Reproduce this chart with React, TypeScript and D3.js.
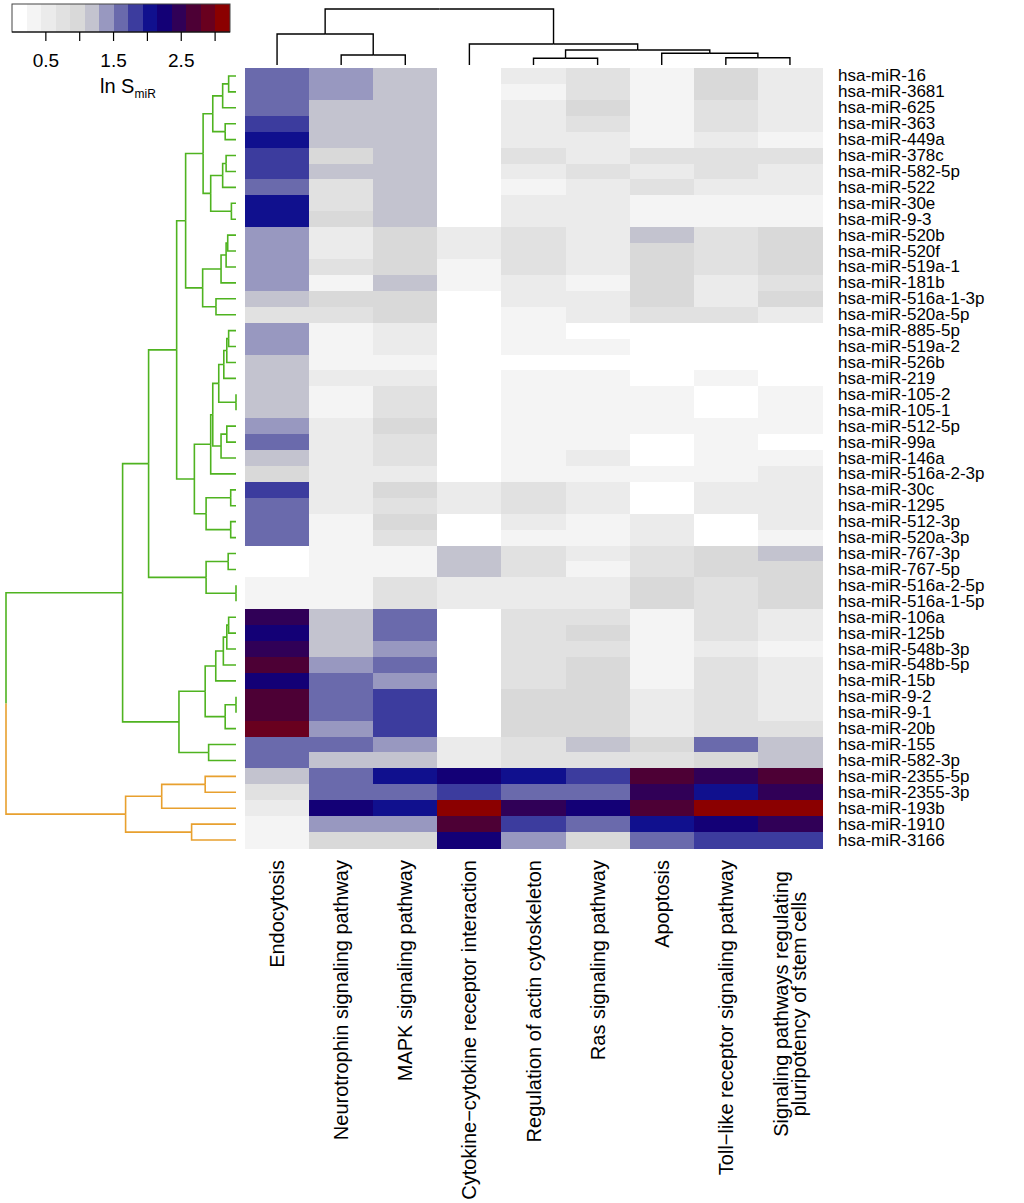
import React from 'react';
import * as d3 from 'd3';

const rowLabels = [
  'hsa-miR-16', 'hsa-miR-3681', 'hsa-miR-625', 'hsa-miR-363', 'hsa-miR-449a',
  'hsa-miR-378c', 'hsa-miR-582-5p', 'hsa-miR-522', 'hsa-miR-30e', 'hsa-miR-9-3',
  'hsa-miR-520b', 'hsa-miR-520f', 'hsa-miR-519a-1', 'hsa-miR-181b', 'hsa-miR-516a-1-3p',
  'hsa-miR-520a-5p', 'hsa-miR-885-5p', 'hsa-miR-519a-2', 'hsa-miR-526b', 'hsa-miR-219',
  'hsa-miR-105-2', 'hsa-miR-105-1', 'hsa-miR-512-5p', 'hsa-miR-99a', 'hsa-miR-146a',
  'hsa-miR-516a-2-3p', 'hsa-miR-30c', 'hsa-miR-1295', 'hsa-miR-512-3p', 'hsa-miR-520a-3p',
  'hsa-miR-767-3p', 'hsa-miR-767-5p', 'hsa-miR-516a-2-5p', 'hsa-miR-516a-1-5p', 'hsa-miR-106a',
  'hsa-miR-125b', 'hsa-miR-548b-3p', 'hsa-miR-548b-5p', 'hsa-miR-15b', 'hsa-miR-9-2',
  'hsa-miR-9-1', 'hsa-miR-20b', 'hsa-miR-155', 'hsa-miR-582-3p', 'hsa-miR-2355-5p',
  'hsa-miR-2355-3p', 'hsa-miR-193b', 'hsa-miR-1910', 'hsa-miR-3166',
];

const colLabels = [
  ['Endocytosis'],
  ['Neurotrophin signaling pathway'],
  ['MAPK signaling pathway'],
  ['Cytokine\u2212cytokine receptor interaction'],
  ['Regulation of actin cytoskeleton'],
  ['Ras signaling pathway'],
  ['Apoptosis'],
  ['Toll\u2212like receptor signaling pathway'],
  ['Signaling pathways regulating', 'pluripotency of stem cells'],
];

// ln S_miR, one row per miRNA, columns in the order of colLabels
const lnS = [
  [1.60, 1.39, 1.17, 0.10, 0.53, 0.74, 0.31, 0.96, 0.53],
  [1.60, 1.39, 1.17, 0.10, 0.31, 0.74, 0.31, 0.96, 0.53],
  [1.60, 1.17, 1.17, 0.10, 0.53, 0.96, 0.31, 0.74, 0.53],
  [1.82, 1.17, 1.17, 0.10, 0.53, 0.74, 0.31, 0.74, 0.53],
  [2.03, 1.17, 1.17, 0.10, 0.53, 0.53, 0.31, 0.53, 0.31],
  [1.82, 0.96, 1.17, 0.10, 0.74, 0.53, 0.74, 0.74, 0.74],
  [1.82, 1.17, 1.17, 0.10, 0.53, 0.74, 0.53, 0.74, 0.53],
  [1.60, 0.74, 1.17, 0.10, 0.31, 0.53, 0.74, 0.53, 0.53],
  [2.03, 0.74, 1.17, 0.10, 0.53, 0.53, 0.31, 0.31, 0.31],
  [2.03, 0.96, 1.17, 0.10, 0.53, 0.53, 0.31, 0.31, 0.31],
  [1.39, 0.53, 0.96, 0.53, 0.74, 0.53, 1.17, 0.74, 0.96],
  [1.39, 0.53, 0.96, 0.53, 0.74, 0.53, 0.96, 0.74, 0.96],
  [1.39, 0.74, 0.96, 0.31, 0.74, 0.53, 0.96, 0.74, 0.96],
  [1.39, 0.31, 1.17, 0.31, 0.53, 0.31, 0.96, 0.53, 0.74],
  [1.17, 0.96, 0.96, 0.10, 0.53, 0.53, 0.96, 0.53, 0.96],
  [0.74, 0.74, 0.96, 0.10, 0.31, 0.53, 0.74, 0.74, 0.53],
  [1.39, 0.31, 0.53, 0.10, 0.31, 0.10, 0.10, 0.10, 0.10],
  [1.39, 0.31, 0.53, 0.10, 0.31, 0.31, 0.10, 0.10, 0.10],
  [1.17, 0.31, 0.31, 0.10, 0.10, 0.10, 0.10, 0.10, 0.10],
  [1.17, 0.53, 0.53, 0.10, 0.31, 0.31, 0.10, 0.31, 0.10],
  [1.17, 0.31, 0.74, 0.10, 0.31, 0.31, 0.31, 0.10, 0.31],
  [1.17, 0.31, 0.74, 0.10, 0.31, 0.31, 0.31, 0.10, 0.31],
  [1.39, 0.53, 0.96, 0.10, 0.31, 0.31, 0.31, 0.31, 0.31],
  [1.60, 0.53, 0.74, 0.10, 0.31, 0.31, 0.10, 0.31, 0.10],
  [1.17, 0.53, 0.74, 0.10, 0.31, 0.53, 0.10, 0.31, 0.31],
  [0.96, 0.53, 0.53, 0.10, 0.31, 0.31, 0.31, 0.31, 0.53],
  [1.82, 0.53, 0.96, 0.53, 0.74, 0.53, 0.10, 0.53, 0.53],
  [1.60, 0.53, 0.74, 0.53, 0.74, 0.53, 0.10, 0.53, 0.53],
  [1.60, 0.31, 0.96, 0.10, 0.53, 0.31, 0.53, 0.10, 0.53],
  [1.60, 0.31, 0.74, 0.10, 0.31, 0.31, 0.53, 0.10, 0.31],
  [0.10, 0.31, 0.31, 1.17, 0.74, 0.53, 0.74, 0.96, 1.17],
  [0.10, 0.31, 0.31, 1.17, 0.74, 0.31, 0.74, 0.96, 0.96],
  [0.31, 0.31, 0.74, 0.53, 0.53, 0.53, 0.96, 0.74, 0.96],
  [0.31, 0.31, 0.74, 0.53, 0.53, 0.53, 0.96, 0.74, 0.96],
  [2.46, 1.17, 1.60, 0.10, 0.74, 0.74, 0.31, 0.74, 0.53],
  [2.25, 1.17, 1.60, 0.10, 0.74, 0.96, 0.31, 0.74, 0.53],
  [2.46, 1.17, 1.39, 0.10, 0.74, 0.74, 0.31, 0.53, 0.31],
  [2.68, 1.39, 1.60, 0.10, 0.74, 0.96, 0.31, 0.74, 0.53],
  [2.25, 1.60, 1.39, 0.10, 0.74, 0.96, 0.31, 0.74, 0.53],
  [2.68, 1.60, 1.82, 0.10, 0.96, 0.96, 0.53, 0.74, 0.53],
  [2.68, 1.60, 1.82, 0.10, 0.96, 0.96, 0.53, 0.74, 0.53],
  [2.89, 1.39, 1.82, 0.10, 0.96, 0.96, 0.53, 0.74, 0.74],
  [1.60, 1.60, 1.39, 0.53, 0.74, 1.17, 0.96, 1.60, 1.17],
  [1.60, 1.17, 1.17, 0.53, 0.74, 0.74, 0.74, 0.96, 1.17],
  [1.17, 1.60, 2.03, 2.25, 2.03, 1.82, 2.68, 2.46, 2.68],
  [0.74, 1.60, 1.60, 1.82, 1.60, 1.60, 2.46, 2.03, 2.46],
  [0.53, 2.25, 2.03, 3.11, 2.46, 2.25, 2.68, 3.11, 3.11],
  [0.31, 1.39, 1.39, 2.68, 1.82, 1.60, 2.03, 2.25, 2.46],
  [0.31, 0.96, 0.96, 2.25, 1.39, 0.96, 1.60, 1.82, 1.82],
];

// hclust-style merges: negative = leaf (1-based row), positive = earlier merge step
const rowMerge = [
  [-1, -2], [1, -3], [-4, -5], [2, 3], [-6, -7], [5, -8], [-9, -10], [6, 7], [4, 8],
  [-11, -12], [10, -13], [11, -14], [-15, -16], [12, 13], [9, 14],
  [-17, -18], [16, -19], [17, -20], [-21, -22], [18, 19], [-23, -24], [21, -25], [20, 22],
  [23, -26], [-27, -28], [-29, -30], [25, 26], [24, 27], [15, 28],
  [-31, -32], [-33, -34], [30, 31], [29, 32],
  [-35, -36], [34, -37], [35, -38], [36, -39], [-40, -41], [38, -42], [37, 39], [-43, -44],
  [40, 41], [33, 42], [-45, -46], [44, -47], [-48, -49], [45, 46], [43, 47],
];
const rowHeight = [
  0.32, 0.58, 0.47, 1.01, 0.43, 0.58, 0.20, 1.10, 1.43,
  0.36, 0.43, 0.65, 0.87, 1.45, 2.19,
  0.32, 0.40, 0.53, 0, 0.75, 0.40, 0.65, 1.01,
  1.10, 0.23, 0.23, 1.30, 1.81, 2.58,
  0.34, 0, 1.30, 3.80,
  0.32, 0.40, 0.55, 0.88, 0, 0.47, 1.34, 1.19,
  2.48, 4.93, 1.34, 3.23, 1.93, 4.80, 10.0,
];

const colMerge = [[-2, -3], [-1, 1], [-5, -6], [-8, -9], [-7, 4], [3, 5], [-4, 6], [2, 7]];
const colHeight = [10, 31, 6.7, 7.3, 11.7, 15, 21, 56];

const legendColors = [
  '#FFFFFF', '#F4F4F4', '#EBEBEB', '#E1E1E1', '#D9D9D9', '#C3C3CF', '#9898C0', '#6A6AAC',
  '#3C3C9E', '#10108E', '#130076', '#300057', '#4D0035', '#69001F', '#8B0000',
];
const legendMax = 3.22;
const legendTicks = [0.5, 1, 1.5, 2, 2.5, 3];
const legendTickLabels = ['0.5', '', '1.5', '', '2.5', ''];
const clusterColors = ['#4FB320', '#E8A02E'];

const FONT = '"Liberation Sans", Arial, Helvetica, sans-serif';

type TNode = { leaf?: number; h: number; children?: TNode[]; pos?: number };

function buildTree(merge: number[][], heights: number[]) {
  const steps: TNode[] = [];
  const pick = (k: number): TNode => (k < 0 ? { leaf: -k - 1, h: 0 } : steps[k - 1]);
  merge.forEach(([a, b], i) => steps.push({ h: heights[i], children: [pick(a), pick(b)] }));
  const root = d3.hierarchy(steps[steps.length - 1], (d) => d.children);
  root.eachAfter((n) => {
    n.data.pos = n.children ? d3.mean(n.children, (c) => c.data.pos) : n.data.leaf;
  });
  return root;
}

export default function App() {
  const W = 1024, H = 1203;
  const hm = { left: 245, right: 822, top: 68, bottom: 848 };

  const x = d3.scaleBand<number>().domain(d3.range(colLabels.length)).range([hm.left, hm.right]);
  const y = d3.scaleBand<number>().domain(d3.range(rowLabels.length)).range([hm.top, hm.bottom]);
  const color = d3.scaleQuantize<string>().domain([0, legendMax]).range(legendColors);

  // row dendrogram
  const rowTree = buildTree(rowMerge, rowHeight);
  const hx = d3.scaleLinear().domain([0, d3.max(rowHeight)!]).range([236, 6]);
  const rowY = (p: number) => hm.top + (p + 0.5) * y.step();
  const rowLinks = rowTree.descendants().filter((d) => d.parent).map((d) => {
    const p = d.parent!;
    const top = d.ancestors().find((a) => a.depth === 1)!;
    const ci = rowTree.children!.indexOf(top);
    return {
      d: `M${hx(p.data.h)},${rowY(p.data.pos!)}V${rowY(d.data.pos!)}H${hx(d.data.h)}`,
      stroke: clusterColors[ci],
    };
  });

  // column dendrogram
  const colTree = buildTree(colMerge, colHeight);
  const vy = d3.scaleLinear().domain([0, d3.max(colHeight)!]).range([65, 9]);
  const colX = (p: number) => hm.left + (p + 0.5) * x.step();
  const colLinks = colTree.descendants().filter((d) => d.parent).map((d) => {
    const p = d.parent!;
    return `M${colX(p.data.pos!)},${vy(p.data.h)}H${colX(d.data.pos!)}V${vy(d.data.h)}`;
  });

  // legend
  const lx = d3.scaleLinear().domain([0, legendMax]).range([12, 230]);
  const binW = legendMax / legendColors.length;
  const lgTop = 4, lgBottom = 32;

  return (
    <svg width={W} height={H} style={{ position: 'absolute', left: 0, top: 0, background: '#fff' }}
      fontFamily={FONT}>
      {/* heatmap cells */}
      <g shapeRendering="crispEdges">
        {lnS.map((row, r) => row.map((v, c) => (
          <rect key={`${r}-${c}`} x={x(c)} y={y(r)} width={x.bandwidth() + 0.5}
            height={y.bandwidth() + 0.5} fill={color(v)} />
        )))}
      </g>

      {/* row dendrogram */}
      <g fill="none" strokeWidth={1.6}>
        {rowLinks.map((l, i) => <path key={i} d={l.d} stroke={l.stroke} />)}
      </g>

      {/* column dendrogram */}
      <g fill="none" stroke="#000" strokeWidth={1.4}>
        {colLinks.map((d, i) => <path key={i} d={d} />)}
      </g>

      {/* row labels */}
      <g fontSize={17} fill="#000">
        {rowLabels.map((lab, r) => (
          <text key={lab} x={838} y={y(r)! + y.bandwidth() / 2} dominantBaseline="central">{lab}</text>
        ))}
      </g>

      {/* column labels */}
      <g fontSize={20} fill="#000">
        {colLabels.map((lines, c) => {
          const cx = x(c)! + x.bandwidth() / 2;
          if (lines.length === 1) {
            return (
              <text key={c} transform={`translate(${cx},860) rotate(-90)`} textAnchor="end"
                dominantBaseline="central">{lines[0]}</text>
            );
          }
          return (
            <g key={c}>
              {lines.map((ln, k) => (
                <text key={k} transform={`translate(${cx + (k - 0.5) * 18.5},1004) rotate(-90)`}
                  textAnchor="middle" dominantBaseline="central">{ln}</text>
              ))}
            </g>
          );
        })}
      </g>

      {/* colour key */}
      <g>
        <g shapeRendering="crispEdges">
          {legendColors.map((col, i) => (
            <rect key={i} x={lx(i * binW)} y={lgTop} width={lx((i + 1) * binW) - lx(i * binW) + 0.4}
              height={lgBottom - lgTop} fill={col} />
          ))}
        </g>
        <rect x={lx(0)} y={lgTop} width={lx(legendMax) - lx(0)} height={lgBottom - lgTop}
          fill="none" stroke="#444" strokeWidth={1} />
        <line x1={lx(0)} x2={lx(legendMax)} y1={lgBottom} y2={lgBottom} stroke="#000" strokeWidth={1.2} />
        {legendTicks.map((t, i) => (
          <g key={t}>
            <line x1={lx(t)} x2={lx(t)} y1={lgBottom} y2={lgBottom + 9} stroke="#000" strokeWidth={1.2} />
            {legendTickLabels[i] && (
              <text x={lx(t)} y={67} textAnchor="middle" fontSize={19}>{legendTickLabels[i]}</text>
            )}
          </g>
        ))}
        <text x={100} y={93} fontSize={20}>
          ln S<tspan fontSize={12} dy={5}>miR</tspan>
        </text>
      </g>
    </svg>
  );
}
